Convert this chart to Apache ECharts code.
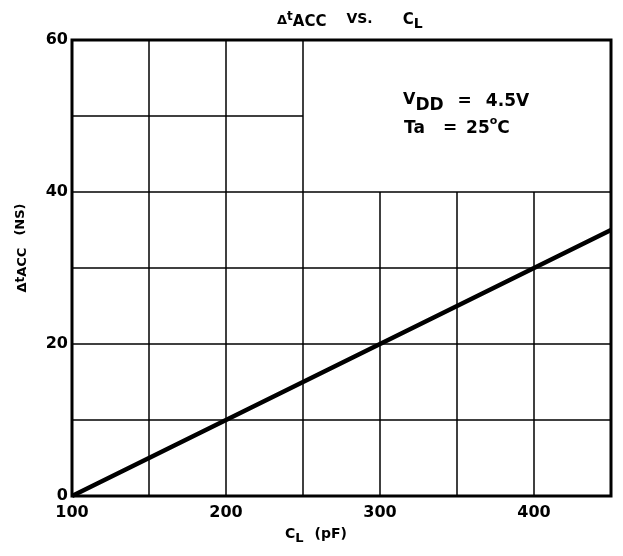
<!DOCTYPE html>
<html>
<head>
    <meta charset="utf-8"/>
    <title>dtACC vs CL</title>
    <script src="https://cdn.jsdelivr.net/npm/echarts@6/dist/echarts.min.js"></script>
    <style>
        html, body {margin: 0; padding: 0; background: #fff;}
    </style>
</head>
<body>
<div id="main" style="width: 623px;height: 556px;"></div>
<script type="text/javascript">
    // 数据
    var capLoad = [100, 200, 300, 400, 450];   // C_L (pF)
    var deltaAcc = [0, 10, 20, 30, 35];        // Δt_ACC (ns)
    var xTicks = [100, 200, 300, 400];
    var yTicks = [0, 20, 40, 60];
    // 网格线 (数据坐标): 竖线 [x, 上端y], 横线 [y, 右端x]
    var vGrid = [[150, 60], [200, 60], [250, 60], [300, 40], [350, 40], [400, 40]];
    var hGrid = [[10, 450], [20, 450], [30, 450], [40, 450], [50, 250]];

    var font = 'DejaVu Sans';
    var myChart = echarts.init(document.getElementById('main'));

    var gridLines = [];
    vGrid.forEach(function (v) {
        gridLines.push([{coord: [v[0], 0]}, {coord: [v[0], v[1]]}]);
    });
    hGrid.forEach(function (h) {
        gridLines.push([{coord: [100, h[0]]}, {coord: [h[1], h[0]]}]);
    });

    // 文字片段样式: 字号 + 下移量 (做上下标用)
    function seg(size, drop, key) {
        var st = {fontFamily: font, fontWeight: 'bold', fontSize: size, verticalAlign: 'top',
                  lineHeight: size + 2, padding: [drop || 0, 0, 0, 0]};
        st[key || 'fill'] = '#000';
        return st;
    }
    // 空白片段
    function gap(w, key) {
        var st = {width: w, fontSize: 10, lineHeight: 12};
        st[key || 'fill'] = '#000';
        return st;
    }

    var option = {
        animation: false,
        backgroundColor: '#fff',
        title: {
            left: 272,
            top: 6,
            textAlign: 'left',
            text: '{d|Δ}{t|t}{a|ACC}{g1|}{v|VS.}{g2|}{c|C}{l|L}',
            textStyle: {
                rich: {
                    d: seg(13, 3, 'color'),
                    t: seg(12, 0, 'color'),
                    a: seg(15, 4, 'color'),
                    v: seg(14, 1, 'color'),
                    c: seg(15, 2, 'color'),
                    l: seg(14, 6, 'color'),
                    g1: gap(20, 'color'),
                    g2: gap(30, 'color')
                }
            }
        },
        grid: {
            left: 72,
            right: 12,
            top: 40,
            bottom: 60,
            show: true,
            borderColor: '#000',
            borderWidth: 3
        },
        xAxis: {
            type: 'value',
            min: 100,
            max: 450,
            interval: 100,
            axisLine: {show: false},
            axisTick: {show: false},
            splitLine: {show: false},
            axisLabel: {
                showMaxLabel: false,
                margin: 9,
                fontFamily: font,
                fontWeight: 'bold',
                fontSize: 16,
                color: '#000',
                formatter: function (v) {
                    return xTicks.indexOf(v) >= 0 ? String(v) : '';
                }
            }
        },
        yAxis: {
            type: 'value',
            min: 0,
            max: 60,
            interval: 20,
            axisLine: {show: false},
            axisTick: {show: false},
            splitLine: {show: false},
            axisLabel: {
                margin: 4,
                fontFamily: font,
                fontWeight: 'bold',
                fontSize: 16,
                color: '#000',
                formatter: function (v) {
                    return yTicks.indexOf(v) >= 0 ? String(v) : '';
                }
            }
        },
        graphic: [
            {   // x轴标题
                type: 'text',
                x: 316,
                y: 535,
                style: {
                    text: '{c|C}{l|L}{g|}{n|(pF)}',
                    align: 'center',
                    verticalAlign: 'middle',
                    rich: {c: seg(14, 0), l: seg(13, 5), n: seg(14, 0), g: gap(11)}
                }
            },
            {   // y轴标题
                type: 'text',
                x: 22,
                y: 248,
                rotation: Math.PI / 2,
                style: {
                    text: '{d|Δ}{t|t}{a|ACC}{g|}{n|(NS)}',
                    align: 'center',
                    verticalAlign: 'middle',
                    rich: {d: seg(13, 2), t: seg(12, 0), a: seg(13, 2), n: seg(13, 0), g: gap(12)}
                }
            },
            {
                type: 'text',
                left: 403,
                top: 92,
                style: {
                    text: '{v|V}{s|DD}{g1|}{n|=}{g2|}{n|4.5V}',
                    rich: {v: seg(16, 0), s: seg(17, 5), n: seg(17, 1), g1: gap(14), g2: gap(14)}
                }
            },
            {
                type: 'text',
                left: 404,
                top: 116,
                style: {
                    text: '{s|Ta}{g1|}{s|=}{g2|}{s|25}{u|o}{s|C}',
                    rich: {s: seg(17, 4), u: seg(11, 0), g1: gap(18), g2: gap(9)}
                }
            }
        ],
        series: [
            {
                name: 'grid',
                type: 'line',
                data: [],
                silent: true,
                markLine: {
                    silent: true,
                    symbol: ['none', 'none'],
                    label: {show: false},
                    lineStyle: {color: '#000', width: 1.5, type: 'solid'},
                    data: gridLines
                }
            },
            {
                name: 'dtACC',
                type: 'line',
                showSymbol: false,
                lineStyle: {color: '#000', width: 4.5},
                data: capLoad.map(function (c, i) { return [c, deltaAcc[i]]; })
            }
        ]
    };
    myChart.setOption(option);
</script>
</body>
</html>
